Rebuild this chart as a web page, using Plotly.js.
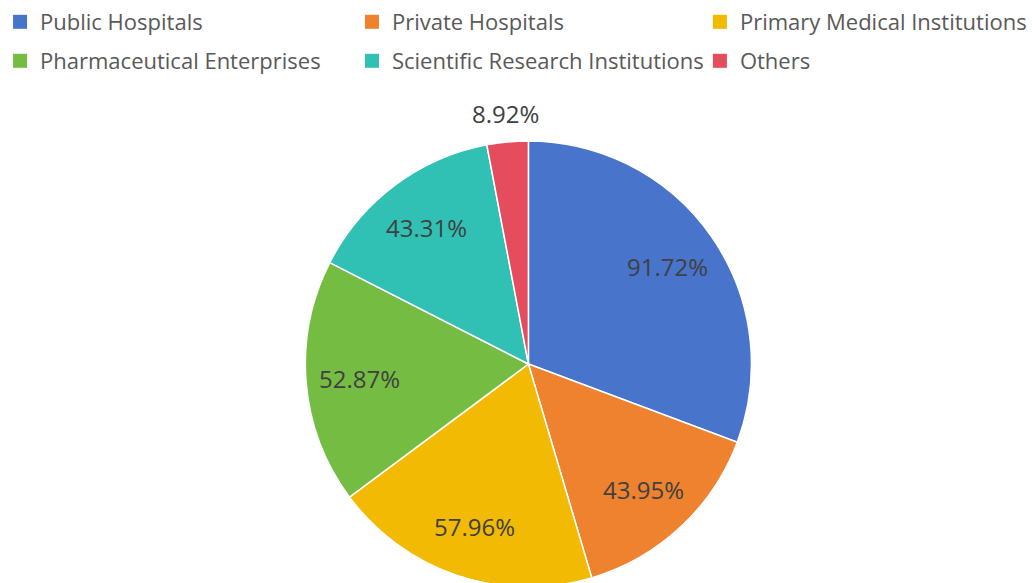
<!DOCTYPE html>
<html>
<head>
<meta charset="utf-8">
<script src="https://cdn.plot.ly/plotly-3.0.1.min.js"></script>
<style>html,body{margin:0;padding:0;overflow:hidden;background:#fff;}</style>
</head>
<body>
<div id="chart" style="width:1032px;height:590px;"></div>
<script>
const categories = ["Public Hospitals", "Private Hospitals", "Primary Medical Institutions", "Pharmaceutical Enterprises", "Scientific Research Institutions", "Others"];
const values = [91.72, 43.95, 57.96, 52.87, 43.31, 8.92];
const colors = ["#4874CB", "#EE822F", "#F2BA02", "#75BD42", "#30C0B4", "#E54C5E"];
const labelOutside = [false, false, false, false, false, true];

const H = 590, W = 1032;
const cx = 526, cy = 364, r = 225;
const legendCols = [-7, 348, 699];   // px offsets of legend columns
const legendRows = [22, 61];         // px centre of legend rows

const pie = {
  type: "pie",
  labels: categories,
  values: values,
  textinfo: "none",
  hoverinfo: "label+value",
  sort: false,
  direction: "clockwise",
  rotation: 0,
  showlegend: false,
  marker: {colors: colors, line: {color: "#ffffff", width: 1.5}},
  domain: {
    x: [(cx - r) / W, (cx + r) / W],
    y: [(H - cy - r) / H, (H - cy + r) / H]
  }
};

// legend entries, one legend box per category
const legendTraces = categories.map((c, i) => ({
  type: "scatter",
  mode: "markers",
  x: [null], y: [null],
  name: c,
  marker: {symbol: "square", size: 14, color: colors[i]},
  showlegend: true,
  legend: i === 0 ? "legend" : "legend" + (i + 1),
  hoverinfo: "skip"
}));

// data labels placed along each slice bisector
const total = values.reduce((a, b) => a + b, 0);
let cum = 0;
const annotations = values.map((v, i) => {
  const mid = (cum + v / 2) / total * 2 * Math.PI;
  cum += v;
  const d = labelOutside[i] ? r * 1.12 : r * 0.76;
  return {
    xref: "paper", yref: "paper",
    x: (cx + d * Math.sin(mid)) / W,
    y: (H - (cy - d * Math.cos(mid))) / H,
    xanchor: "center", yanchor: "middle",
    text: v.toFixed(2) + "%",
    showarrow: false,
    font: {family: "Open Sans, sans-serif", size: 24, color: "#404040"}
  };
});

const layout = {
  width: W,
  height: H,
  margin: {l: 0, r: 0, t: 0, b: 0},
  paper_bgcolor: "#ffffff",
  plot_bgcolor: "#ffffff",
  showlegend: true,
  xaxis: {visible: false, fixedrange: true},
  yaxis: {visible: false, fixedrange: true},
  annotations: annotations
};

categories.forEach((c, i) => {
  const key = i === 0 ? "legend" : "legend" + (i + 1);
  layout[key] = {
    orientation: "h",
    x: legendCols[i % 3] / W,
    y: (H - legendRows[Math.floor(i / 3)]) / H,
    xanchor: "left", yanchor: "middle",
    bgcolor: "rgba(0,0,0,0)",
    font: {family: "Open Sans, sans-serif", size: 22, color: "#595959"},
    itemwidth: 30
  };
});

Plotly.newPlot("chart", [pie].concat(legendTraces), layout, {displayModeBar: false, staticPlot: true});
</script>
</body>
</html>
